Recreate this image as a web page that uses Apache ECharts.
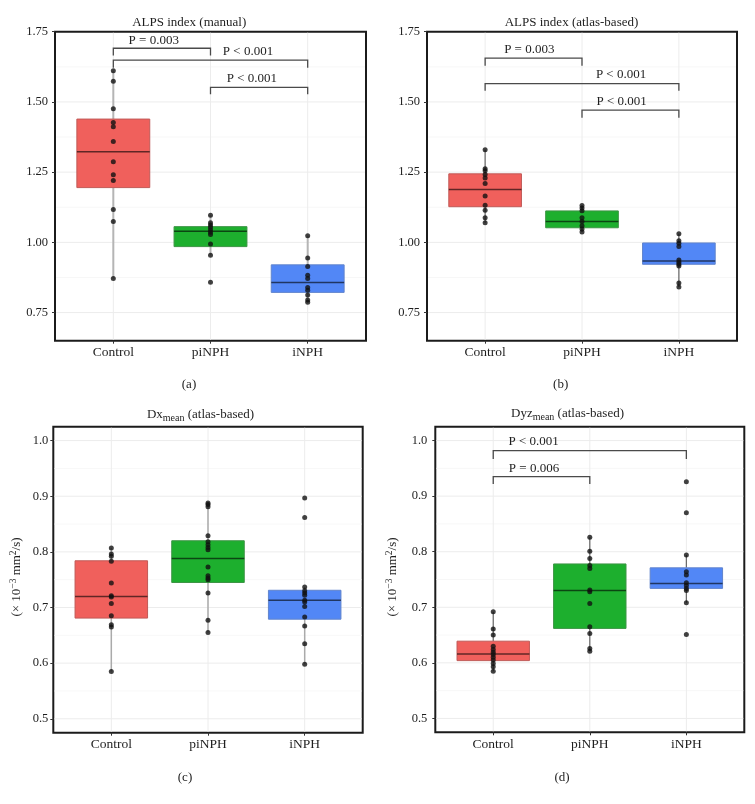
<!DOCTYPE html>
<html><head><meta charset="utf-8">
<script src="https://cdn.jsdelivr.net/npm/echarts@6/dist/echarts.min.js"></script>
<style>html,body{margin:0;padding:0;background:#fff}#c{width:755px;height:804px}</style>
</head><body><div id="c"></div>
<script>
// ---------- data ----------
const categories = ['Control', 'piNPH', 'iNPH'];
const xTicks = [1, 2, 3];
const yTicksAB = [0.75, 1.00, 1.25, 1.50, 1.75];
const yMinorAB = [0.875, 1.125, 1.375, 1.625];
const yTicksCD = [0.5, 0.6, 0.7, 0.8, 0.9, 1.0];
const yMinorCD = [0.55, 0.65, 0.75, 0.85, 0.95];

// (a) ALPS index (manual)
const aControl = [1.611, 1.574, 1.476, 1.427, 1.412, 1.359, 1.287, 1.241, 1.220, 1.117, 1.074, 0.871];
const aPiNPH = [1.097, 1.070, 1.062, 1.054, 1.044, 1.036, 1.028, 0.994, 0.954, 0.858];
const aINPH = [1.024, 0.944, 0.914, 0.883, 0.871, 0.839, 0.830, 0.813, 0.795, 0.787];
// box: [lower whisker, Q1, median, Q3, upper whisker]
const aBox = [[0.871, 1.195, 1.323, 1.439, 1.611], [0.954, 0.985, 1.040, 1.056, 1.097], [0.787, 0.822, 0.857, 0.920, 1.024]];
// bracket: [x1, x2, y, yEnd, labelX, labelY]
const aBrackets = [[1, 2, 1.691, 1.665, 1.416, 1.720], [1, 3, 1.649, 1.622, 2.386, 1.679], [2, 3, 1.552, 1.527, 2.425, 1.582]];
const aLabels = ['P = 0.003', 'P < 0.001', 'P < 0.001'];

// (b) ALPS index (atlas-based)
const bControl = [1.330, 1.262, 1.255, 1.242, 1.229, 1.210, 1.165, 1.132, 1.114, 1.088, 1.070];
const bPiNPH = [1.131, 1.122, 1.113, 1.088, 1.074, 1.059, 1.048, 1.037];
const bINPH = [1.031, 1.006, 0.997, 0.985, 0.937, 0.929, 0.922, 0.916, 0.855, 0.841];
const bBox = [[1.070, 1.127, 1.188, 1.244, 1.330], [1.037, 1.052, 1.074, 1.112, 1.131], [0.841, 0.922, 0.934, 0.998, 1.031]];
const bBrackets = [[1, 2, 1.656, 1.629, 1.456, 1.685], [1, 3, 1.565, 1.540, 2.403, 1.596], [2, 3, 1.471, 1.444, 2.410, 1.501]];
const bLabels = ['P = 0.003', 'P < 0.001', 'P < 0.001'];

// (c) Dx mean (atlas-based)
const cControl = [0.807, 0.796, 0.792, 0.783, 0.744, 0.721, 0.719, 0.707, 0.685, 0.669, 0.665, 0.585];
const cPiNPH = [0.888, 0.885, 0.881, 0.829, 0.818, 0.813, 0.808, 0.804, 0.773, 0.757, 0.753, 0.750, 0.726, 0.677, 0.655];
const cINPH = [0.897, 0.862, 0.737, 0.730, 0.726, 0.722, 0.713, 0.710, 0.702, 0.683, 0.667, 0.635, 0.598];
const cBox = [[0.585, 0.681, 0.720, 0.784, 0.807], [0.655, 0.745, 0.788, 0.820, 0.888], [0.598, 0.679, 0.713, 0.731, 0.737]];
const cBrackets = [];
const cLabels = [];

// (d) Dyz mean (atlas-based)
const dControl = [0.692, 0.661, 0.650, 0.630, 0.624, 0.619, 0.615, 0.610, 0.605, 0.599, 0.593, 0.585];
const dPiNPH = [0.826, 0.801, 0.788, 0.775, 0.770, 0.731, 0.728, 0.707, 0.665, 0.653, 0.626, 0.621];
const dINPH = [0.926, 0.870, 0.794, 0.764, 0.758, 0.744, 0.739, 0.734, 0.730, 0.708, 0.651];
const dBox = [[0.585, 0.604, 0.616, 0.639, 0.692], [0.621, 0.662, 0.730, 0.778, 0.826], [0.708, 0.734, 0.743, 0.771, 0.794]];
const dBrackets = [[1, 3, 0.982, 0.967, 1.419, 0.998], [1, 2, 0.935, 0.922, 1.422, 0.949]];
const dLabels = ['P < 0.001', 'P = 0.006'];

// ---------- layout / style ----------
const FONT = 'Liberation Serif';
const TXT = '#1e1e1e';
const boxFill = ['#F0605C', '#1DAF2E', '#5287F6'];
const boxBorder = ['#C05A57', '#3C9444', '#6184CC'];

const panels = [
  { grid: { left: 55, top: 31.7, width: 311, height: 309 }, yMin: 0.65, yMax: 1.75, ticks: yTicksAB, minor: yMinorAB, dec: 2, margin: 7,
    groups: [aControl, aPiNPH, aINPH], box: aBox, brackets: aBrackets, labels: aLabels, whisker: '#b5b5b5', whiskerW: 2 },
  { grid: { left: 427, top: 31.7, width: 310, height: 309 }, yMin: 0.65, yMax: 1.75, ticks: yTicksAB, minor: yMinorAB, dec: 2, margin: 7,
    groups: [bControl, bPiNPH, bINPH], box: bBox, brackets: bBrackets, labels: bLabels, whisker: '#666', whiskerW: 1.2 },
  { grid: { left: 53.3, top: 426.7, width: 309.4, height: 306 }, yMin: 0.475, yMax: 1.025, ticks: yTicksCD, minor: yMinorCD, dec: 1, margin: 5,
    groups: [cControl, cPiNPH, cINPH], box: cBox, brackets: cBrackets, labels: cLabels, whisker: '#aaa', whiskerW: 1.5 },
  { grid: { left: 435.3, top: 426.7, width: 309, height: 305.6 }, yMin: 0.475, yMax: 1.025, ticks: yTicksCD, minor: yMinorCD, dec: 1, margin: 8,
    groups: [dControl, dPiNPH, dINPH], box: dBox, brackets: dBrackets, labels: dLabels, whisker: '#666', whiskerW: 1.2 }
];

const grids = [], xAxes = [], yAxes = [], series = [];
panels.forEach((p, i) => {
  grids.push(Object.assign({ show: true, borderColor: '#1b1b1b', borderWidth: 2, backgroundColor: '#fff' }, p.grid));
  xAxes.push({
    type: 'value', gridIndex: i, min: 0.4, max: 3.6,
    splitLine: { show: false }, axisLine: { show: false },
    axisTick: { show: true, customValues: xTicks, length: 3, lineStyle: { color: '#333' } },
    axisLabel: { show: true, customValues: xTicks, margin: 5, formatter: v => categories[Math.round(v) - 1],
      fontFamily: FONT, fontSize: 13.5, color: TXT }
  });
  yAxes.push({
    type: 'value', gridIndex: i, min: p.yMin, max: p.yMax,
    splitLine: { show: false }, axisLine: { show: false },
    axisTick: { show: true, customValues: p.ticks, length: 3, lineStyle: { color: '#333' } },
    axisLabel: { show: true, customValues: p.ticks, margin: p.margin, formatter: v => v.toFixed(p.dec),
      fontFamily: FONT, fontSize: 12.5, color: TXT }
  });
  // grid lines (horizontal)
  const hData = p.ticks.map(v => [1, v, 0]).concat(p.minor.map(v => [1, v, 1]));
  series.push({
    type: 'custom', xAxisIndex: i, yAxisIndex: i, silent: true, z: 1, data: hData,
    renderItem: (params, api) => {
      const cs = params.coordSys;
      const pt = api.coord([1, api.value(1)]);
      if (pt[1] < cs.y + 2 || pt[1] > cs.y + cs.height - 2) return null;
      const minor = api.value(2) === 1;
      return { type: 'line', shape: { x1: cs.x + 1, y1: pt[1], x2: cs.x + cs.width - 1, y2: pt[1] },
        style: { stroke: minor ? '#f5f5f5' : '#ececec', lineWidth: minor ? 0.8 : 1 } };
    }
  });
  // grid lines (vertical, at categories)
  series.push({
    type: 'custom', xAxisIndex: i, yAxisIndex: i, silent: true, z: 1, data: xTicks.map(v => [v, p.yMin]),
    renderItem: (params, api) => {
      const cs = params.coordSys;
      const pt = api.coord([api.value(0), p.yMin]);
      return { type: 'line', shape: { x1: pt[0], y1: cs.y + 1, x2: pt[0], y2: cs.y + cs.height - 1 },
        style: { stroke: '#ececec', lineWidth: 1 } };
    }
  });
  // boxes
  series.push({
    type: 'custom', xAxisIndex: i, yAxisIndex: i, silent: true, z: 2,
    data: p.box.map((s, k) => [k + 1].concat(s)),
    renderItem: (params, api) => {
      const x = api.value(0);
      const k = params.dataIndex;
      const lo = api.coord([x, api.value(1)]), q1 = api.coord([x, api.value(2)]),
            md = api.coord([x, api.value(3)]), q3 = api.coord([x, api.value(4)]), hi = api.coord([x, api.value(5)]);
      const hw = api.size([0.75, 0])[0] / 2;
      return { type: 'group', children: [
        { type: 'line', shape: { x1: lo[0], y1: lo[1], x2: q1[0], y2: q1[1] }, style: { stroke: p.whisker, lineWidth: p.whiskerW } },
        { type: 'line', shape: { x1: q3[0], y1: q3[1], x2: hi[0], y2: hi[1] }, style: { stroke: p.whisker, lineWidth: p.whiskerW } },
        { type: 'rect', shape: { x: q3[0] - hw, y: q3[1], width: 2 * hw, height: q1[1] - q3[1] },
          style: { fill: boxFill[k], stroke: boxBorder[k], lineWidth: 1 } },
        { type: 'line', shape: { x1: md[0] - hw, y1: md[1], x2: md[0] + hw, y2: md[1] },
          style: { stroke: 'rgba(0,0,0,0.6)', lineWidth: 1.5 } }
      ] };
    }
  });
  // points
  const pts = [];
  p.groups.forEach((g, k) => g.forEach(v => pts.push([k + 1, v])));
  series.push({
    type: 'scatter', xAxisIndex: i, yAxisIndex: i, silent: true, z: 3, data: pts,
    symbol: 'circle', symbolSize: 5, itemStyle: { color: '#111' }
  });
  // significance brackets
  if (p.brackets.length) {
    series.push({
      type: 'custom', xAxisIndex: i, yAxisIndex: i, silent: true, z: 3, data: p.brackets,
      renderItem: (params, api) => {
        const a = api.coord([api.value(0), api.value(3)]), b = api.coord([api.value(0), api.value(2)]),
              c = api.coord([api.value(1), api.value(2)]), d = api.coord([api.value(1), api.value(3)]);
        const t = api.coord([api.value(4), api.value(5)]);
        return { type: 'group', children: [
          { type: 'polyline', shape: { points: [a, b, c, d] }, style: { stroke: '#4a4a4a', lineWidth: 1.3, fill: null } },
          { type: 'text', x: t[0], y: t[1], style: { text: p.labels[params.dataIndex], fontFamily: FONT, fontSize: 13,
            fill: TXT, align: 'center', verticalAlign: 'middle' } }
        ] };
      }
    });
  }
});

const richBase = {
  n: { fontFamily: FONT, fontSize: 13, lineHeight: 16, verticalAlign: 'middle', fill: TXT, color: TXT },
  sub: { fontFamily: FONT, fontSize: 10, lineHeight: 9, verticalAlign: 'bottom', fill: TXT, color: TXT },
  sup: { fontFamily: FONT, fontSize: 9.5, lineHeight: 9, verticalAlign: 'top', fill: TXT, color: TXT }
};
function txt(x, y, text, extra) {
  return Object.assign({ type: 'text', x: x, y: y, silent: true, z: 10,
    style: { text: text, rich: richBase, fontFamily: FONT, fontSize: 13, fill: TXT, align: 'center', verticalAlign: 'middle' } }, extra || {});
}
const graphics = [
  txt(189.2, 22.3, '{n|ALPS index (manual)}'),
  txt(571.5, 22.3, '{n|ALPS index (atlas-based)}'),
  txt(200.5, 415, '{n|Dx}{sub|mean}{n| (atlas-based)}'),
  txt(567.5, 414, '{n|Dyz}{sub|mean}{n| (atlas-based)}'),
  txt(189, 384.3, '{n|(a)}'),
  txt(560.7, 384.3, '{n|(b)}'),
  txt(185, 777.7, '{n|(c)}'),
  txt(562, 777.7, '{n|(d)}'),
  txt(16.5, 577, '{n|(× 10}{sup|−3}{n| mm}{sup|2}{n|/s)}', { rotation: Math.PI / 2 }),
  txt(392.5, 577, '{n|(× 10}{sup|−3}{n| mm}{sup|2}{n|/s)}', { rotation: Math.PI / 2 })
];

const chart = echarts.init(document.getElementById('c'), null, { renderer: 'canvas' });
chart.setOption({
  animation: false,
  backgroundColor: '#fff',
  grid: grids, xAxis: xAxes, yAxis: yAxes, series: series,
  graphic: graphics
});
</script></body></html>
